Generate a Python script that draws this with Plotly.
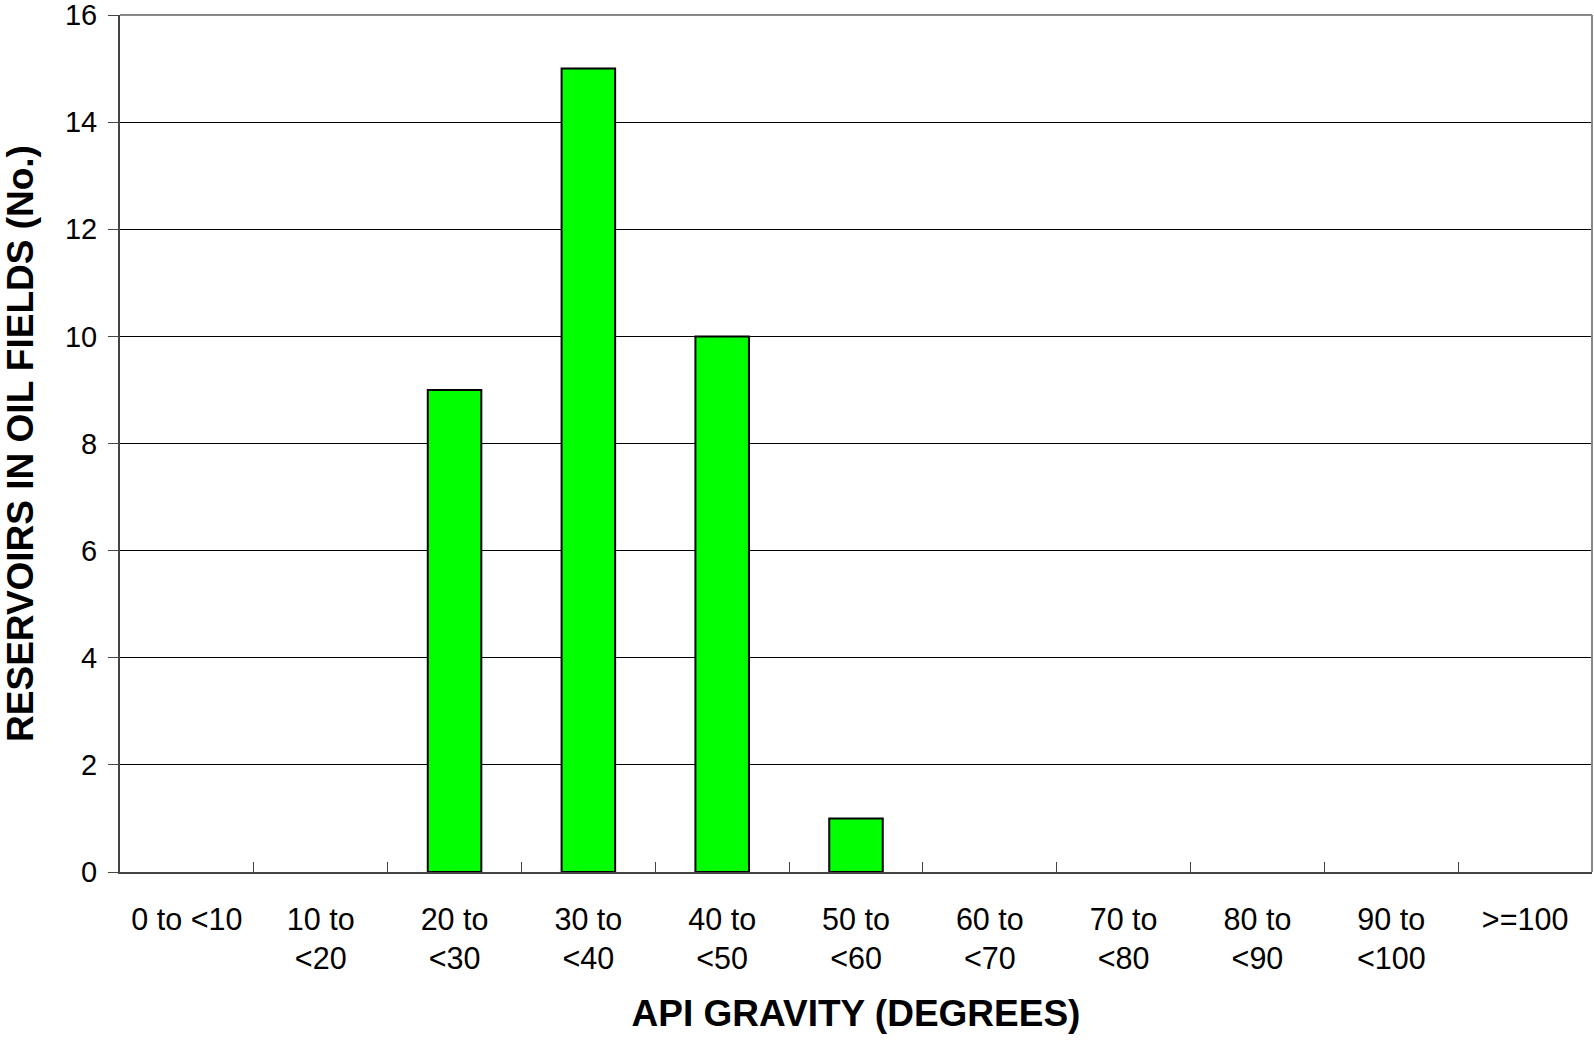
import plotly.graph_objects as go

categories = ["0 to <10", "10 to<br><20", "20 to<br><30", "30 to<br><40", "40 to<br><50",
              "50 to<br><60", "60 to<br><70", "70 to<br><80", "80 to<br><90", "90 to<br><100", ">=100"]
counts = [0, 0, 9, 15, 10, 1, 0, 0, 0, 0, 0]
y_ticks = [0, 2, 4, 6, 8, 10, 12, 14, 16]

font_family = "Liberation Sans, Arial, sans-serif"

fig = go.Figure()
fig.add_trace(go.Bar(
    x=list(range(len(categories))),
    y=[v if v > 0 else None for v in counts],
    width=0.4,
    marker=dict(color="#00FF00", line=dict(color="#000000", width=2)),
))

fig.update_layout(
    width=1594, height=1040,
    margin=dict(l=120, r=2, t=15, b=168, autoexpand=False),
    paper_bgcolor="white", plot_bgcolor="white",
    showlegend=False,
    font=dict(family=font_family, size=29, color="black"),
    shapes=[
        dict(type="line", xref="paper", yref="paper", x0=0, x1=1, y0=1, y1=1,
             line=dict(color="#888888", width=2)),
        dict(type="line", xref="paper", yref="paper", x0=1, x1=1, y0=0, y1=1,
             line=dict(color="#888888", width=2)),
    ],
)

fig.update_xaxes(
    range=[-0.5, len(categories) - 0.5],
    tickmode="array",
    tickvals=list(range(len(categories))),
    ticktext=categories,
    tickfont=dict(size=30.5),
    ticks="",
    showgrid=False,
    showline=True, linecolor="#444444", linewidth=2,
    ticklabelstandoff=19,
    title=dict(text="<b>API GRAVITY (DEGREES)</b>", font=dict(size=37), standoff=26),
    zeroline=False,
    minor=dict(tickmode="array", tickvals=[i + 0.5 for i in range(len(categories) - 1)],
               ticks="inside", ticklen=10, tickcolor="#444444", tickwidth=1, showgrid=False),
)

fig.update_yaxes(
    range=[0, 16],
    tickmode="array", tickvals=y_ticks,
    ticks="outside", ticklen=10, tickcolor="#444444", tickwidth=1,
    showgrid=True, gridcolor="#000000", gridwidth=1,
    showline=True, linecolor="#444444", linewidth=2,
    zeroline=False,
    ticklabelstandoff=5,
    ticklabeloverflow="allow",
    title=dict(text="<b>RESERVOIRS IN OIL FIELDS (No.)</b>", font=dict(size=37), standoff=20),
)

fig.write_html("out.html", config={"displayModeBar": False})

with open("out.html", "r", encoding="utf-8") as f:
    html = f.read()
html = html.replace("<body>", "<body style=\"margin:0;padding:0;\">", 1)
with open("out.html", "w", encoding="utf-8") as f:
    f.write(html)
